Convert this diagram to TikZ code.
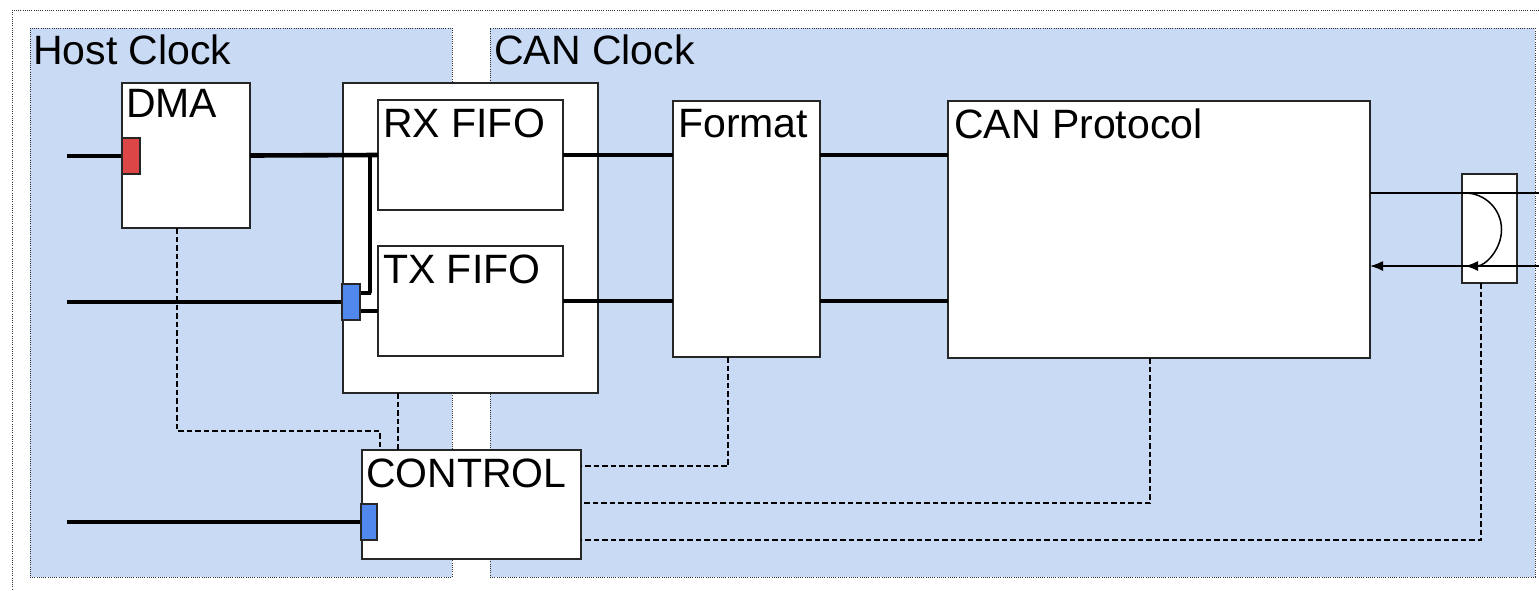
\documentclass[tikz,border=0pt]{standalone}
\usepackage{fontspec}
\setmainfont{Liberation Sans}
\usetikzlibrary{arrows.meta}
\definecolor{regionblue}{HTML}{C9DAF4}
\definecolor{portred}{HTML}{DC4646}
\definecolor{portblue}{HTML}{5088EE}
\tikzset{
  frame/.style={draw=black!80, line width=0.9pt, dash pattern=on 0.9pt off 1.3pt},
  region/.style={frame, fill=regionblue, inner sep=0pt, outer sep=0pt, anchor=north west},
  box/.style={draw=black!85, fill=white, line width=1.4pt, inner sep=0pt, outer sep=0pt, anchor=north west},
  port/.style={box, line width=1.3pt},
  lbl/.style={inner sep=0pt, anchor=base west, font=\fontsize{41}{41}\selectfont},
  bus/.style={line width=4.6pt},
  thinline/.style={line width=1.5pt},
  ctl/.style={line width=2.5pt, dash pattern=on 5.5pt off 3pt},
  tip/.style={-{Latex[length=13pt,width=10pt]}}
}
\begin{document}
\begin{tikzpicture}[x=1pt,y=-1pt]
\useasboundingbox (0,0) rectangle (1539,590);
\clip (0,0) rectangle (1539,590);
\fill[white] (0,0) rectangle (1539,590);
\draw[frame] (12,10) rectangle (1580,640);
% regions
\node[region, minimum width=422, minimum height=549] (host) at (30,28) {};
\node[region, minimum width=1045, minimum height=549] (can) at (490,28) {};
\node[lbl] (hostlbl) at ([xshift=3,yshift=-36]host.north west) {Host Clock};
\node[lbl] (canlbl) at ([xshift=4,yshift=-36]can.north west) {CAN Clock};
% boxes
\node[box, minimum width=128, minimum height=145] (dma) at (122,83) {};
\node[box, minimum width=255, minimum height=310] (fifo) at (343,83) {};
\node[box, minimum width=185, minimum height=110] (rx) at (378,100) {};
\node[box, minimum width=185, minimum height=110] (tx) at (378,246) {};
\node[box, minimum width=147, minimum height=256] (format) at (673,101) {};
\node[box, minimum width=422, minimum height=257] (canp) at (948,101) {};
\node[box, minimum width=55, minimum height=109] (xcvr) at (1462,174) {};
\node[box, minimum width=219, minimum height=109] (ctrl) at (362,450) {};
% labels
\node[lbl] (dmalbl) at ([xshift=4,yshift=-34]dma.north west) {DMA};
\node[lbl] (rxlbl) at ([xshift=5,yshift=-37]rx.north west) {RX FIFO};
\node[lbl] (txlbl) at ([xshift=5,yshift=-37]tx.north west) {TX FIFO};
\node[lbl] (fmtlbl) at ([xshift=5,yshift=-36]format.north west) {Format};
\node[lbl] (canplbl) at ([xshift=6,yshift=-37]canp.north west) {CAN Protocol};
\node[lbl] (ctrllbl) at ([xshift=4,yshift=-37]ctrl.north west) {CONTROL};
% inputs
\coordinate (in1) at (67,156);
\coordinate (in2) at (67,302);
\coordinate (in3) at (67,522);
\coordinate (j1) at (370,155);
\coordinate (o1) at (1560,193);
\coordinate (i1) at (1560,266);
% buses
\draw[bus] (in1) -- (dma.west |- in1);
\draw[bus] (dma.east) -- (rx.west);
\draw[bus] (in2) -- (fifo.west |- in2);
\draw[bus] (in3) -- (ctrl.west |- in3);
\draw[bus] (j1) |- (371,293) -- (352,293);
\draw[bus] (352,311) -- (tx.west |- 0,311);
\draw[bus] (rx.east) -- (rx.east -| format.west);
\draw[bus] (tx.east) -- (tx.east -| format.west);
\draw[bus] (rx.east -| format.east) -- (rx.east -| canp.west);
\draw[bus] (tx.east -| format.east) -- (tx.east -| canp.west);
% ports
\node[port, fill=portred, minimum width=18, minimum height=36] (dmaport) at (122,138) {};
\node[port, fill=portblue, minimum width=18, minimum height=36] (fifoport) at (342,284) {};
\node[port, fill=portblue, minimum width=16, minimum height=36] (ctrlport) at (361,504) {};
% CAN side thin lines
\draw[thinline] (o1 -| canp.east) -- (o1);
\draw[thinline, tip] (i1) -- (i1 -| canp.east);
\draw[thinline, tip] ([xshift=3]o1 -| xcvr.west) arc[start angle=-90, end angle=90, radius=36.5];
% control lines
\draw[ctl] ([xshift=-9]dma.south) -- ++(0,203) -| ([xshift=18]ctrl.north west);
\draw[ctl] ([xshift=-72.5]fifo.south) -- ([xshift=-72.5]fifo.south |- ctrl.north);
\draw[ctl] ([xshift=-18.5]format.south) |- ([yshift=38.5]ctrl.east);
\draw[ctl] ([xshift=-9]canp.south) |- ([yshift=1.5]ctrl.east);
\draw[ctl] ([xshift=-8.5]xcvr.south) |- ([yshift=-35.5]ctrl.east);
\end{tikzpicture}
\end{document}
